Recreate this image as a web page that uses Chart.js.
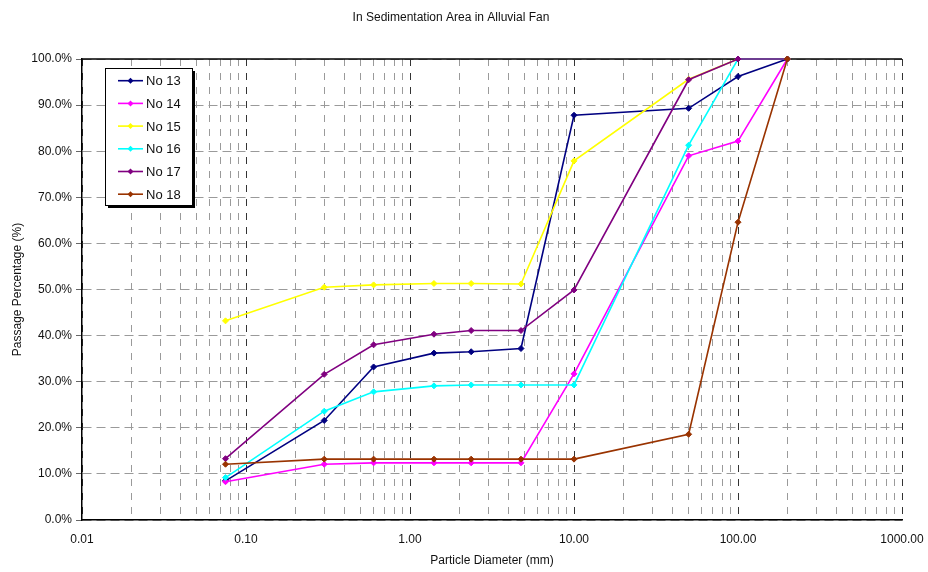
<!DOCTYPE html>
<html>
<head>
<meta charset="utf-8">
<title>In Sedimentation Area in Alluvial Fan</title>
<script src="https://cdn.jsdelivr.net/npm/chart.js@4/dist/chart.umd.min.js"></script>
<style>
    body { margin: 0; background: #fff; }
    #wrap { width: 928px; height: 572px; position: relative; }
</style>
</head>
<body>
<div id="wrap"><canvas id="gradingChart"></canvas></div>
<script>
/* ================= DATA ================= */
const diameters = [0.075, 0.3, 0.6, 1.4, 2.36, 4.75, 10, 50, 100, 200];   // mm

const no13 = [8.5, 21.6, 33.2, 36.2, 36.5, 37.2, 87.8, 89.3, 96.2, 100];
const no14 = [8.3, 12.1, 12.4, 12.4, 12.4, 12.4, 31.7, 79.0, 82.2, 100];
const no15 = [43.2, 50.5, 51.0, 51.3, 51.3, 51.2, 77.9, 95.6, 100, 100];
const no16 = [9.2, 23.6, 27.8, 29.1, 29.3, 29.3, 29.3, 81.3, 100, 100];
const no17 = [13.3, 31.6, 38.0, 40.3, 41.1, 41.1, 49.9, 95.5, 100, 100];
const no18 = [12.1, 13.2, 13.2, 13.2, 13.2, 13.2, 13.2, 18.6, 64.6, 100];

const seriesNames = ['No 13', 'No 14', 'No 15', 'No 16', 'No 17', 'No 18'];
const seriesValues = [no13, no14, no15, no16, no17, no18];
const seriesColors = ['#000080', '#ff00ff', '#ffff00', '#00ffff', '#800080', '#993300'];

const decades = [0.01, 0.1, 1, 10, 100, 1000];
const percentTicks = [0, 10, 20, 30, 40, 50, 60, 70, 80, 90, 100];

const FONT = '"Liberation Sans", Arial, sans-serif';

/* ================= DATASETS ================= */
const datasets = seriesNames.map((name, i) => ({
    label: name,
    data: diameters.map((d, j) => ({ x: d, y: seriesValues[i][j] })),
    borderColor: seriesColors[i],
    backgroundColor: seriesColors[i],
    borderWidth: 1.6,
    pointStyle: 'rectRot',
    pointRadius: 3,
    pointBorderWidth: 1,
    tension: 0,
    clip: 6,
    order: seriesNames.length - i     // later series on top
}));

/* ================= PLOT FRAME + LEGEND BOX ================= */
const framePlugin = {
    id: 'frame',
    beforeDatasetsDraw(chart) {
        const { ctx, chartArea: a } = chart;
        ctx.save();
        ctx.strokeStyle = '#000';
        ctx.lineWidth = 1.5;
        ctx.beginPath();
        ctx.moveTo(a.left, a.top);
        ctx.lineTo(a.right, a.top);
        ctx.stroke();
        ctx.restore();
    }
};

const legendBoxPlugin = {
    id: 'legendBox',
    afterDraw(chart) {
        const { ctx } = chart;
        const x = 105, y = 68, w = 87, h = 137;
        ctx.save();
        ctx.fillStyle = '#000';
        ctx.fillRect(x + 3, y + 3, w, h);
        ctx.fillStyle = '#fff';
        ctx.fillRect(x, y, w, h);
        ctx.strokeStyle = '#000';
        ctx.lineWidth = 1;
        ctx.strokeRect(x + 0.5, y + 0.5, w, h);

        ctx.font = '13px ' + FONT;
        ctx.textBaseline = 'middle';
        chart.data.datasets.forEach((ds, i) => {
            const rowY = y + 12.7 + i * 22.7;
            ctx.strokeStyle = ds.borderColor;
            ctx.lineWidth = 1.6;
            ctx.beginPath();
            ctx.moveTo(x + 13, rowY);
            ctx.lineTo(x + 38, rowY);
            ctx.stroke();
            ctx.fillStyle = ds.borderColor;
            ctx.beginPath();
            ctx.moveTo(x + 25.5, rowY - 3);
            ctx.lineTo(x + 28.5, rowY);
            ctx.lineTo(x + 25.5, rowY + 3);
            ctx.lineTo(x + 22.5, rowY);
            ctx.closePath();
            ctx.fill();
            ctx.fillStyle = '#111';
            ctx.fillText(ds.label, x + 41, rowY + 1);
        });
        ctx.restore();
    }
};

/* ================= CHART ================= */
new Chart(document.getElementById('gradingChart'), {
    type: 'line',
    data: { datasets },
    options: {
        responsive: true,
        maintainAspectRatio: false,
        animation: false,
        layout: { padding: { left: 0, right: 26, top: 0, bottom: 0 } },
        plugins: {
            legend: { display: false },
            tooltip: { enabled: false },
            title: {
                display: true,
                text: 'In Sedimentation Area in Alluvial Fan',
                color: '#111',
                font: { family: FONT, size: 12, weight: 'normal' },
                padding: { top: 10, bottom: 34.6 }
            }
        },
        scales: {
            x: {
                type: 'logarithmic',
                min: 0.01,
                max: 1000,
                afterBuildTicks: scale => {
                    const ticks = [];
                    decades.forEach((d, k) => {
                        ticks.push({ value: d, major: true });
                        if (k < decades.length - 1) {
                            for (let m = 2; m <= 9; m++) ticks.push({ value: d * m, major: false });
                        }
                    });
                    scale.ticks = ticks;
                },
                afterFit: scale => {
                    scale.height = 52;
                    scale.paddingLeft = 0;
                    scale.paddingRight = 0;
                },
                ticks: {
                    autoSkip: false,
                    maxRotation: 0,
                    padding: 12,
                    color: '#111',
                    font: { family: FONT, size: 12 },
                    callback: (v, i, ticks) => ticks[i].major ? v.toFixed(2) : ''
                },
                grid: {
                    drawTicks: false,
                    lineWidth: 1,
                    color: c => (c.tick && c.tick.major) ? '#333' : '#9a9a9a'
                },
                border: { display: true, color: '#000', width: 1.5, dash: [7, 7] },
                title: {
                    display: true,
                    text: 'Particle Diameter (mm)',
                    color: '#111',
                    font: { family: FONT, size: 12 },
                    padding: { top: 0, bottom: 4 }
                }
            },
            y: {
                min: 0,
                max: 100,
                afterBuildTicks: scale => {
                    scale.ticks = percentTicks.map(v => ({ value: v }));
                },
                afterFit: scale => { scale.width = 82; },
                ticks: {
                    padding: 4,
                    color: '#111',
                    font: { family: FONT, size: 12 },
                    callback: v => v.toFixed(1) + '%'
                },
                grid: {
                    color: '#9a9a9a',
                    lineWidth: 1,
                    tickLength: 6,
                    tickColor: '#666'
                },
                border: { display: true, color: '#000', width: 1.5, dash: [9, 5] },
                title: {
                    display: true,
                    text: 'Passage Percentage (%)',
                    color: '#111',
                    font: { family: FONT, size: 12 },
                    padding: { top: 10, bottom: 0 }
                }
            }
        }
    },
    plugins: [framePlugin, legendBoxPlugin]
});
</script>
</body>
</html>
